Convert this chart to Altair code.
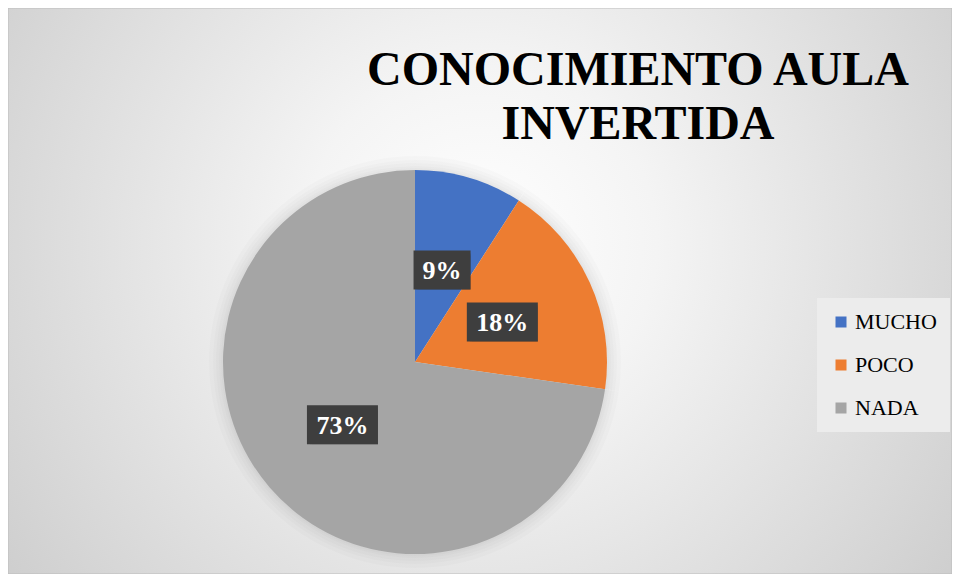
import altair as alt
import pandas as pd

CATEGORIES = ["MUCHO", "POCO", "NADA"]
VALUES = [1, 2, 8]
COLORS = ["#4472C4", "#ED7D31", "#A5A5A5"]
TITLE_LINES = ["CONOCIMIENTO AULA", "INVERTIDA"]

W, H = 944, 566
CX, CY, R = 407, 354, 192
LR = 96
SERIF = "Liberation Serif"

df = pd.DataFrame({"categoria": CATEGORIES, "valor": VALUES})

base = (
    alt.Chart(df)
    .transform_window(orden="row_number()")
    .transform_joinaggregate(total="sum(valor)")
    .transform_window(acum="sum(valor)", sort=[alt.SortField("orden")], frame=[None, 0])
    .transform_calculate(
        etiqueta="format(datum.valor / datum.total, '.0%')",
        mid="2*PI*(datum.acum - datum.valor/2)/datum.total",
    )
    .transform_calculate(
        lx=f"{CX} + {LR}*sin(datum.mid)",
        ly=f"{CY} - {LR}*cos(datum.mid)",
        bw="14*length(datum.etiqueta)+29",
    )
    .transform_calculate(
        bx1="datum.lx - datum.bw/2",
        bx2="datum.lx + datum.bw/2",
        by1="datum.ly - 19.5",
        by2="datum.ly + 19.5",
    )
)

theta = alt.Theta("valor:Q", stack=True)
order = alt.Order("orden:Q")

bg = alt.Chart(pd.DataFrame({"d": [0]})).mark_rect(
    fill=alt.RadialGradient(
        gradient="radial",
        stops=[
            alt.GradientStop(color="#ffffff", offset=0),
            alt.GradientStop(color="#f4f4f4", offset=0.25),
            alt.GradientStop(color="#c2c2c2", offset=1),
        ],
        x1=0.5, y1=0.45, x2=0.5, y2=0.45, r1=0, r2=0.75,
    ),
    stroke="#bdbdbd",
    strokeWidth=1,
).encode(x=alt.value(0), x2=alt.value(W), y=alt.value(0), y2=alt.value(H))

shadows = [
    base.mark_arc(radius=R + k, color="black", opacity=0.015, stroke=None).encode(
        theta=theta, order=order, x=alt.value(CX), y=alt.value(CY)
    )
    for k in [2, 4, 7, 10, 14]
]

pie = base.mark_arc(radius=R, stroke=None).encode(
    theta=theta,
    order=order,
    x=alt.value(CX),
    y=alt.value(CY),
    color=alt.Color(
        "categoria:N",
        scale=alt.Scale(domain=CATEGORIES, range=COLORS),
        sort=CATEGORIES,
        legend=alt.Legend(
            orient="none",
            legendX=809,
            legendY=290,
            title=None,
            symbolType="square",
            symbolSize=121,
            symbolStrokeWidth=0,
            labelFont=SERIF,
            labelFontSize=22,
            labelColor="black",
            rowPadding=21,
            padding=13,
            fillColor="#ececec",
            labelOffset=3,
        ),
    ),
)

enc_box = dict(
    x=alt.X("bx1:Q", scale=None, axis=None),
    x2="bx2:Q",
    y=alt.Y("by1:Q", scale=None, axis=None),
    y2="by2:Q",
)

box_shadow1 = base.mark_rect(fill="black", opacity=0.12, xOffset=5, yOffset=5).encode(**enc_box)
box_shadow2 = base.mark_rect(fill="black", opacity=0.2, xOffset=3, yOffset=3).encode(**enc_box)
box = base.mark_rect(fill="#3e3e3e").encode(**enc_box)

text = base.mark_text(
    font=SERIF, fontWeight="bold", fontSize=26, color="white",
    baseline="middle", dy=1,
).encode(
    x=alt.X("lx:Q", scale=None, axis=None),
    y=alt.Y("ly:Q", scale=None, axis=None),
    text="etiqueta:N",
)

title = (
    alt.Chart(pd.DataFrame({"linea": TITLE_LINES}))
    .transform_window(n="row_number()")
    .transform_calculate(ty="77 + (datum.n - 1)*54")
    .mark_text(font=SERIF, fontWeight="bold", fontSize=48, color="black",
               baseline="alphabetic", align="center")
    .encode(
        x=alt.value(630),
        y=alt.Y("ty:Q", scale=None, axis=None),
        text="linea:N",
    )
)

chart = alt.layer(bg, *shadows, pie, box_shadow1, box_shadow2, box, text, title).properties(
    width=W, height=H, padding=0, autosize="none", background="white"
).configure_view(stroke=None)

chart.save("out.html", embed_options={"renderer": "svg", "actions": False})
